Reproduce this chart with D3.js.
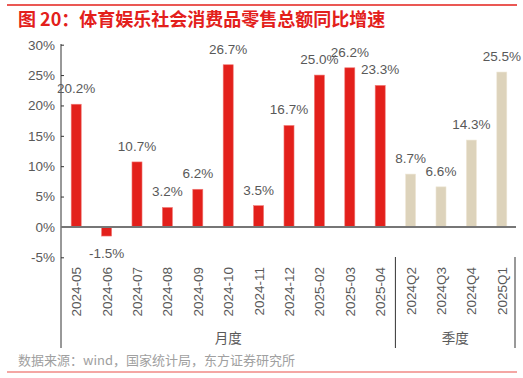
<!DOCTYPE html>
<html>
<head>
<meta charset="utf-8">
<style>
  body { margin: 0; background: #fff; }
  svg { display: block; font-family: Arial, "Liberation Sans", "Noto Sans CJK SC", sans-serif; }
</style>
</head>
<body>
<svg width="523" height="378"></svg>
<script src="https://d3js.org/d3.v7.min.js"></script>
<script>
  // data
  let monthCats = ["2024-05", "2024-06", "2024-07", "2024-08", "2024-09", "2024-10", "2024-11", "2024-12", "2025-02", "2025-03", "2025-04"];
  let monthVals = [20.2, -1.5, 10.7, 3.2, 6.2, 26.7, 3.5, 16.7, 25.0, 26.2, 23.3];
  let quarterCats = ["2024Q2", "2024Q3", "2024Q4", "2025Q1"];
  let quarterVals = [8.7, 6.6, 14.3, 25.5];
  let yTicks = [-5, 0, 5, 10, 15, 20, 25, 30];

  let rows = monthCats.map((c, i) => ({ cat: c, v: monthVals[i], grp: "m" }))
    .concat(quarterCats.map((c, i) => ({ cat: c, v: quarterVals[i], grp: "q" })));

  let svg = d3.select("svg");
  let red = "#e3201b";
  let textCol = "#595959";

  // top rule + title
  svg.append("line").attr("x1", 7).attr("x2", 517).attr("y1", 5).attr("y2", 5)
    .style("stroke", red).style("stroke-width", 1.5);
  svg.append("text").attr("x", 18).attr("y", 26)
    .style("font-size", "18px").style("font-weight", "bold").style("fill", red)
    .style("font-family", "'Noto Sans CJK SC', sans-serif")
    .text("图 20：体育娱乐社会消费品零售总额同比增速");

  let x = d3.scaleBand().domain(rows.map(d => d.cat)).range([61, 517]).paddingInner(0.67).paddingOuter(0.335);
  let y = d3.scaleLinear().domain([-5, 30]).range([257.3, 44.7]);

  // y axis
  let yAxis = svg.append("g").attr("transform", "translate(61,0)")
    .call(d3.axisRight(y).tickValues(yTicks).tickSize(3).tickFormat(d => d + "%"));
  yAxis.select(".domain").remove();
  yAxis.selectAll("line").style("stroke", "#333");
  yAxis.selectAll("text").attr("x", -6).style("text-anchor", "end")
    .style("font-size", "13.5px").style("fill", textCol);
  svg.append("line").attr("x1", 61).attr("x2", 61).attr("y1", 44).attr("y2", 348)
    .style("stroke", "#333").style("stroke-width", 1);

  // bars
  svg.selectAll(".bar").data(rows).join("rect")
    .attr("x", d => x(d.cat))
    .attr("width", x.bandwidth())
    .attr("y", d => y(Math.max(0, d.v)))
    .attr("height", d => Math.abs(y(d.v) - y(0)))
    .style("fill", d => d.grp == "m" ? red : "#ddd3bb")
    .style("stroke", d => d.grp == "m" ? "#f07a76" : "#eee7d6")
    .style("stroke-width", 0.6);

  // zero line
  svg.append("line").attr("x1", 61).attr("x2", 516).attr("y1", y(0)).attr("y2", y(0))
    .style("stroke", "#767676").style("stroke-width", 2);

  // value labels
  svg.selectAll(".val").data(rows).join("text")
    .attr("x", d => x(d.cat) + x.bandwidth() / 2)
    .attr("y", d => d.v >= 0 ? y(d.v) - 11 : y(d.v) + 22)
    .style("text-anchor", "middle").style("font-size", "13.5px").style("fill", textCol)
    .text(d => d.v.toFixed(1) + "%");

  // category labels
  svg.selectAll(".cat").data(rows).join("text")
    .attr("transform", d => `translate(${x(d.cat) + x.bandwidth() / 2 + 5},267) rotate(-90)`)
    .style("text-anchor", "end").style("font-size", "13.5px").style("fill", textCol)
    .text(d => d.cat);

  // group separators
  let sepX = x(quarterCats[0]) - x.step() * x.paddingInner() / 2 - x.bandwidth() * 0 ;
  let sep = (x(monthCats[monthCats.length - 1]) + x.bandwidth() + x(quarterCats[0])) / 2;
  [sep, 515].forEach(sx => {
    svg.append("line").attr("x1", sx).attr("x2", sx).attr("y1", 257).attr("y2", 348)
      .style("stroke", "#333").style("stroke-width", 1);
  });

  svg.append("text").attr("x", (61 + sep) / 2).attr("y", 343)
    .style("text-anchor", "middle").style("font-size", "13.5px").style("fill", textCol)
    .style("font-family", "'Noto Sans CJK SC', sans-serif").text("月度");
  svg.append("text").attr("x", (sep + 515) / 2).attr("y", 343)
    .style("text-anchor", "middle").style("font-size", "13.5px").style("fill", textCol)
    .style("font-family", "'Noto Sans CJK SC', sans-serif").text("季度");

  // source + bottom rule
  svg.append("text").attr("x", 18).attr("y", 365)
    .style("font-size", "13px").style("fill", "#a0a0a0")
    .style("font-family", "'Noto Sans CJK SC', sans-serif")
    .text("数据来源：wind，国家统计局，东方证券研究所");
  svg.append("line").attr("x1", 7).attr("x2", 517).attr("y1", 372).attr("y2", 372)
    .style("stroke", "#f08a86").style("stroke-width", 1.5);
</script>
</body>
</html>
